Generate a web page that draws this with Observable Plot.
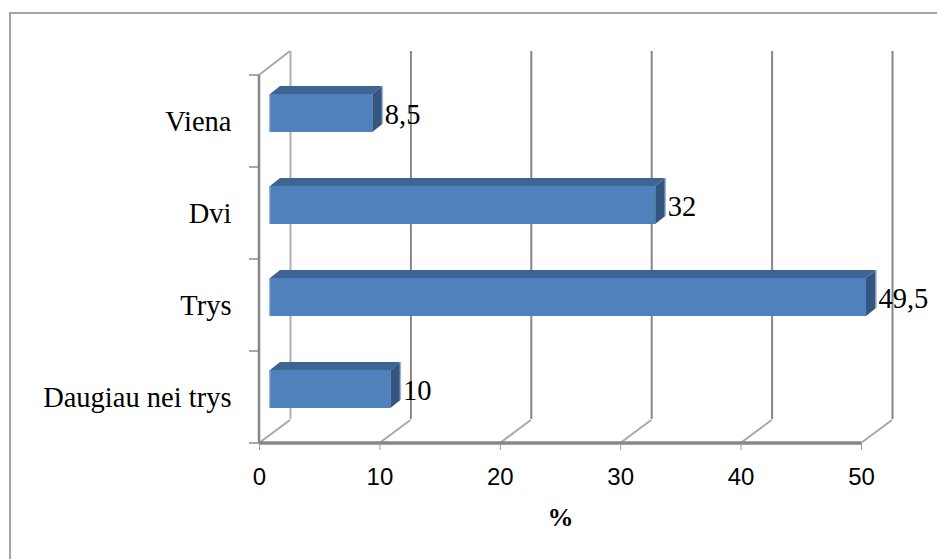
<!DOCTYPE html>
<html>
<head>
<meta charset="utf-8">
<script src="https://cdn.jsdelivr.net/npm/d3@7"></script>
<script src="https://cdn.jsdelivr.net/npm/@observablehq/plot@0.6"></script>
<style>
  html, body { margin: 0; padding: 0; background: #fff; overflow: hidden; }
  #wrap { position: relative; width: 937px; height: 559px; overflow: hidden; }
  #border { position: absolute; left: 9px; top: 12px; width: 940px; height: 560px; border: 2px solid #a3a3a3; box-sizing: border-box; }
  #chart { position: absolute; left: 0; top: 0; }
</style>
</head>
<body>
<div id="wrap"><div id="border"></div><div id="chart"></div></div>
<script>
const categories = ["Viena", "Dvi", "Trys", "Daugiau nei trys"];
const values = [8.5, 32, 49.5, 10];
const valueLabels = ["8,5", "32", "49,5", "10"];
const xTicks = [0, 10, 20, 30, 40, 50];
const axisTitle = "%";

const data = categories.map((c, i) => ({cat: c, value: values[i], label: valueLabels[i]}));

const DX = 31, DY = -24;        // back wall offset
const BX = 11, BY = -8;         // bar placement offset (middle depth)
const DEPTH_X = 10, DEPTH_Y = -8; // bar depth
const INSET = 27;

function wallLines(index, scales, values, dims) {
  const {x, y} = scales;
  const g = d3.create("svg:g");
  const top = dims.marginTop, bottom = dims.height - dims.marginBottom;
  const n = categories.length;
  const step = (bottom - top) / n;
  for (const v of xTicks) {
    g.append("line").attr("x1", x(v)).attr("y1", bottom).attr("x2", x(v) + DX).attr("y2", bottom + DY + 1)
      .attr("stroke", "#a8a8a8").attr("stroke-width", 2);
  }
  g.append("line").attr("x1", x(0)).attr("y1", top).attr("x2", x(0) + DX).attr("y2", top + DY)
    .attr("stroke", "#a8a8a8").attr("stroke-width", 2);
  for (let k = 0; k <= n; k++) {
    const yy = top + k * step;
    g.append("line").attr("x1", x(0) - 10).attr("y1", yy).attr("x2", x(0)).attr("y2", yy)
      .attr("stroke", "#8a8a8a").attr("stroke-width", 1.5);
  }
  g.append("line").attr("x1", x(0)).attr("y1", top).attr("x2", x(0)).attr("y2", bottom)
    .attr("stroke", "#868686").attr("stroke-width", 2.5);
  g.append("line").attr("x1", x(0)).attr("y1", bottom).attr("x2", x(50)).attr("y2", bottom)
    .attr("stroke", "#868686").attr("stroke-width", 3.5);
  return g.node();
}

function barFaces(index, scales, values, dims) {
  const {x, y} = scales;
  const n = categories.length;
  const bw = y.bandwidth ? y.bandwidth() : (dims.height - dims.marginTop - dims.marginBottom) / n;
  const g = d3.create("svg:g");
  for (const d of data) {
    const x0 = x(0) + BX, x1 = x(d.value) + BX;
    const yt = y(d.cat) + INSET + BY, yb = y(d.cat) + bw - INSET + BY;
    g.append("polygon")
      .attr("points", [[x0, yt], [x0 + DEPTH_X, yt + DEPTH_Y], [x1 + DEPTH_X, yt + DEPTH_Y], [x1, yt]].map(p => p.join(",")).join(" "))
      .attr("fill", "#3e6494");
    g.append("polygon")
      .attr("points", [[x1, yt], [x1 + DEPTH_X, yt + DEPTH_Y], [x1 + DEPTH_X, yb + DEPTH_Y], [x1, yb]].map(p => p.join(",")).join(" "))
      .attr("fill", "#33557f");
    g.append("line").attr("x1", x1 + DEPTH_X).attr("y1", yt + DEPTH_Y).attr("x2", x1 + DEPTH_X).attr("y2", yb + DEPTH_Y)
      .attr("stroke", "#9fb4cf").attr("stroke-width", 1.5);
    g.append("line").attr("x1", x0).attr("y1", yt).attr("x2", x0).attr("y2", yb)
      .attr("stroke", "#6b97cc").attr("stroke-width", 1.5);
  }
  return g.node();
}

const serif = "'Liberation Serif', 'Times New Roman', serif";

const chart = Plot.plot({
  width: 937,
  height: 559,
  marginLeft: 259,
  marginRight: 76,
  marginTop: 75,
  marginBottom: 116,
  style: {background: "transparent", overflow: "visible"},
  x: {domain: [0, 50]},
  y: {domain: categories, padding: 0},
  marks: [
    Plot.ruleX(xTicks.filter(v => v > 0), {dx: DX, dy: DY, stroke: "#868686", strokeWidth: 2}),
    Plot.ruleX([0], {dx: DX, dy: DY, stroke: "#b0b0b0", strokeWidth: 2}),
    wallLines,
    Plot.axisX({ticks: xTicks, tickSize: 7, tickPadding: 17, fontSize: 24, fontFamily: "'Liberation Sans', Arial, sans-serif", stroke: "#9a9a9a", fill: "#000", label: null}),
    Plot.axisY({tickSize: 0, tickPadding: 28, fontSize: 28.5, fontFamily: serif, fill: "#000", label: null}),
    Plot.barX(data, {x: "value", y: "cat", fill: "#4f81bd", insetTop: INSET, insetBottom: INSET, dx: BX, dy: BY}),
    barFaces,
    Plot.text(data, {x: "value", y: "cat", text: "label", dx: 23, dy: BY + 1, textAnchor: "start", fontSize: 28.5, fontFamily: serif, fill: "#000"}),
    Plot.text([axisTitle], {frameAnchor: "bottom", lineAnchor: "middle", dy: 74, fontSize: 26, fontWeight: "bold", fontFamily: serif, fill: "#000"})
  ]
});
document.getElementById("chart").appendChild(chart);
</script>
</body>
</html>
